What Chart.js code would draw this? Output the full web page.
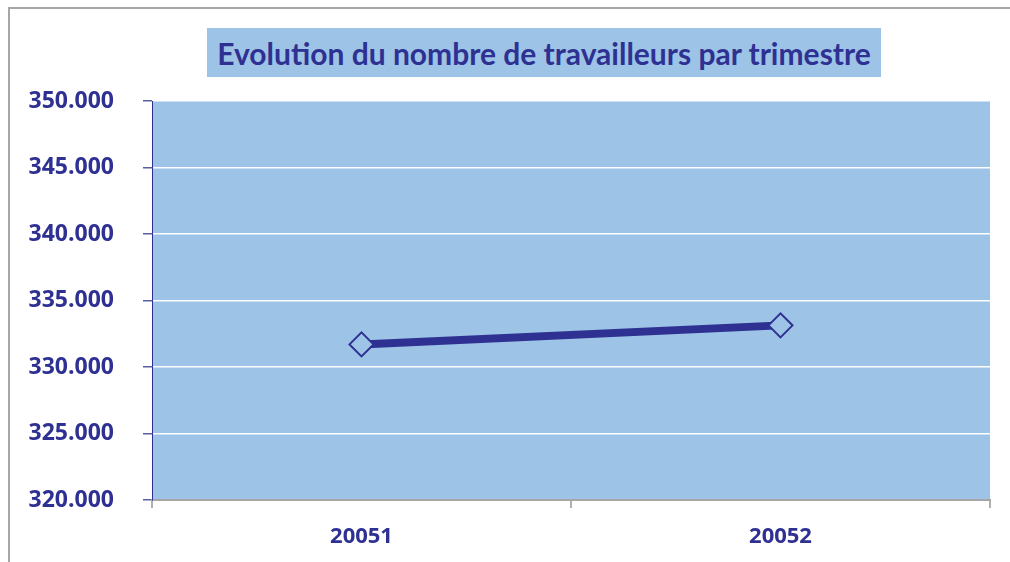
<!DOCTYPE html>
<html>
<head>
<meta charset="utf-8">
<script src="https://cdn.jsdelivr.net/npm/chart.js@4/dist/chart.umd.min.js"></script>
<style>
  html, body { margin: 0; padding: 0; background: #fff; overflow: hidden; }
  #wrap { position: relative; width: 1010px; height: 562px; overflow: hidden; }
  #frame { position: absolute; left: 8px; top: 7px; width: 1002px; height: 555px;
           border-left: 2px solid #a6a6a6; border-top: 2px solid #a6a6a6; box-sizing: border-box; }
  #title { position: absolute; left: 207px; top: 28px; width: 674px; height: 49px;
           background: #9dc3e6; color: #2e3192; font: bold 30px Lato, sans-serif;
           display: flex; align-items: center; justify-content: center; white-space: nowrap; }
  canvas { position: absolute; left: 0; top: 0; }
</style>
</head>
<body>
<div id="wrap">
  <div id="frame"></div>
  <canvas id="chart" width="1010" height="562"></canvas>
  <div id="title">Evolution du nombre de travailleurs par trimestre</div>
</div>
<script>
const quarters = ['20051', '20052'];
const workers = [331700, 333130];
const yMin = 320000;
const yMax = 350000;
const yStep = 5000;

const navy = '#2e3192';
const plotBg = '#9dc3e6';

// fill the plot area before anything else is drawn
const plotBackground = {
    id: 'plotBackground',
    beforeDraw(chart) {
        const { ctx, chartArea: a } = chart;
        ctx.save();
        ctx.fillStyle = plotBg;
        ctx.fillRect(a.left, a.top, a.right - a.left, a.bottom - a.top);
        ctx.restore();
    }
};

const fmt = v => String(v).replace(/\B(?=(\d{3})+(?!\d))/g, '.');

new Chart(document.getElementById('chart'), {
    type: 'line',
    data: {
        labels: quarters,
        datasets: [{
            data: workers,
            borderColor: navy,
            borderWidth: 8,
            pointStyle: 'rectRot',
            pointRadius: 12,
            pointBorderWidth: 2,
            pointBorderColor: navy,
            pointBackgroundColor: plotBg,
            tension: 0
        }]
    },
    options: {
        responsive: false,
        animation: false,
        layout: { padding: { left: 0, right: 20, top: 101, bottom: 0 } },
        plugins: {
            legend: { display: false },
            tooltip: { enabled: false }
        },
        scales: {
            x: {
                offset: true,
                afterFit: s => { s.height = 62; },
                border: { color: '#a6a6a6', width: 2 },
                grid: { offset: true, drawOnChartArea: false, tickColor: '#b0b0b0', tickLength: 8, lineWidth: 2 },
                ticks: { color: navy, padding: 16, font: { family: 'Open Sans', weight: 'bold', size: 22 } }
            },
            y: {
                min: yMin,
                max: yMax,
                afterFit: s => { s.width = 152; },
                border: { color: navy, width: 1 },
                grid: { color: '#ffffff', lineWidth: 1.5, tickColor: '#5a5e9e', tickLength: 9 },
                ticks: {
                    stepSize: yStep,
                    color: navy,
                    padding: 29,
                    font: { family: 'Open Sans', weight: 'bold', size: 23 },
                    callback: v => fmt(v)
                }
            }
        }
    },
    plugins: [plotBackground]
});
</script>
</body>
</html>
